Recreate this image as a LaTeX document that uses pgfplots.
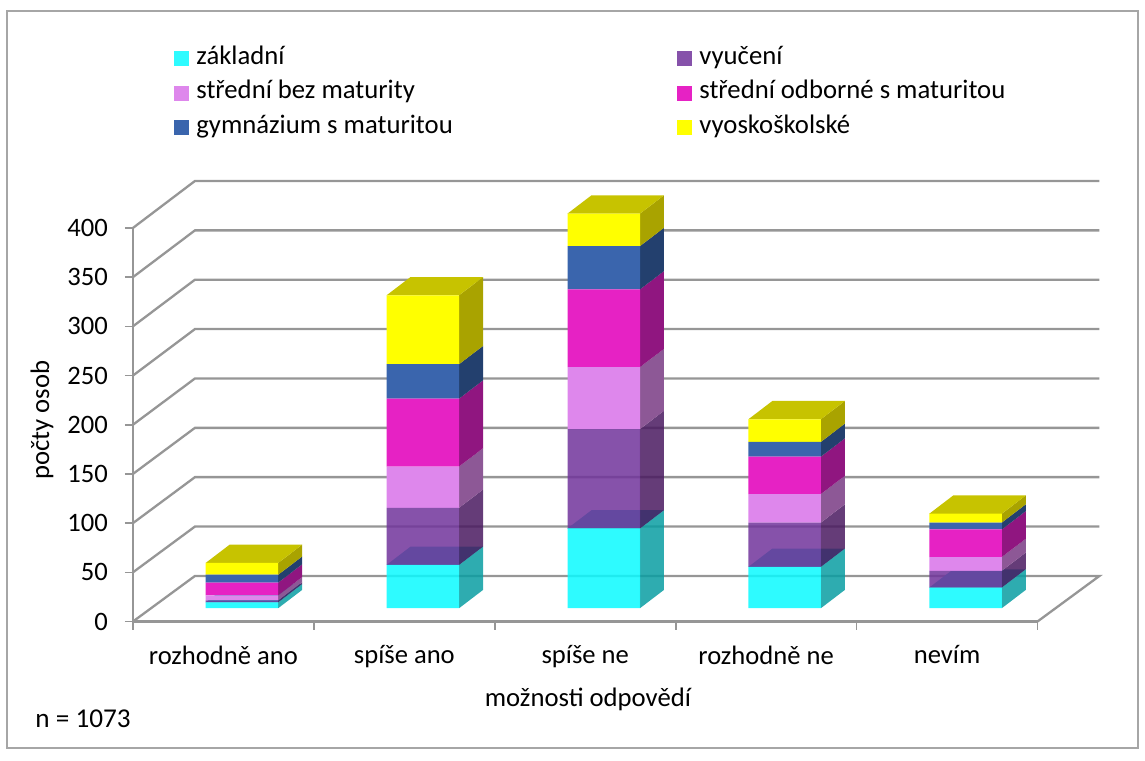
\documentclass[border=0pt]{standalone}
\usepackage{fontspec}
\setmainfont{Carlito}
\usepackage{pgfplots}
\usepackage{pgfplotstable}
\pgfplotsset{compat=1.18}
\definecolor{cyanF}{RGB}{9,250,255}
\definecolor{cyanS}{RGB}{9,158,162}
\definecolor{cyanT}{RGB}{27,188,192}
\definecolor{purF}{RGB}{113,52,155}
\definecolor{purS}{RGB}{74,26,96}
\definecolor{pinkF}{RGB}{222,135,236}
\definecolor{pinkS}{RGB}{141,88,150}
\definecolor{magF}{RGB}{230,34,196}
\definecolor{magS}{RGB}{144,22,128}
\definecolor{bluF}{RGB}{58,101,173}
\definecolor{bluS}{RGB}{35,64,110}
\definecolor{yelF}{RGB}{255,255,0}
\definecolor{yelS}{RGB}{169,163,0}
\definecolor{yelT}{RGB}{199,195,0}
\definecolor{gridc}{RGB}{150,150,150}
\definecolor{framec}{RGB}{166,166,166}
\pgfplotstableread{
x a b c d e f
0 6 2 5 13 8 12
1 44 58 42 69 35 70
2 81 101 63 79 44 33
3 42 45 29 38 15 23
4 21 17 14 28 7 9
}\data
% one side face of a segment: category, lower sum, upper sum, colour, opacity
\newcommand\sideface[5]{%
  \pgfmathsetmacro\xa{#1+0.3025}\pgfmathsetmacro\xb{#1+0.4351}%
  \pgfmathsetmacro\ya{#2+13.5}\pgfmathsetmacro\yb{#2+32.1}%
  \pgfmathsetmacro\yc{#3+32.1}\pgfmathsetmacro\yd{#3+13.5}%
  \edef\tmp{\noexpand\addplot[forget plot,draw=none,fill=#4,fill opacity=#5] coordinates {(\xa,\ya)(\xb,\yb)(\xb,\yc)(\xa,\yd)} -- cycle;}\tmp}
% top face of a segment: category, sum, colour
\newcommand\topface[3]{%
  \pgfmathsetmacro\xa{#1-0.0983}\pgfmathsetmacro\xb{#1+0.3025}%
  \pgfmathsetmacro\xc{#1+0.4351}\pgfmathsetmacro\xd{#1+0.0343}%
  \pgfmathsetmacro\ya{#2+13.5}\pgfmathsetmacro\yb{#2+32.1}%
  \edef\tmp{\noexpand\addplot[forget plot,draw=none,fill=#3] coordinates {(\xa,\ya)(\xb,\ya)(\xc,\yb)(\xd,\yb)} -- cycle;}\tmp}
\newcommand\barfaces[1]{%
  \pgfplotstablegetelem{#1}{a}\of\data\pgfmathsetmacro\sa{\pgfplotsretval}%
  \pgfplotstablegetelem{#1}{b}\of\data\pgfmathsetmacro\sb{\sa+\pgfplotsretval}%
  \pgfplotstablegetelem{#1}{c}\of\data\pgfmathsetmacro\sc{\sb+\pgfplotsretval}%
  \pgfplotstablegetelem{#1}{d}\of\data\pgfmathsetmacro\sd{\sc+\pgfplotsretval}%
  \pgfplotstablegetelem{#1}{e}\of\data\pgfmathsetmacro\se{\sd+\pgfplotsretval}%
  \pgfplotstablegetelem{#1}{f}\of\data\pgfmathsetmacro\sf{\se+\pgfplotsretval}%
  \sideface{#1}{0}{\sa}{cyanS}{0.85}%
  \topface{#1}{\sa}{cyanT}%
  \sideface{#1}{\sa}{\sb}{purS}{0.85}%
  \sideface{#1}{\sb}{\sc}{pinkS}{1}%
  \sideface{#1}{\sc}{\sd}{magS}{1}%
  \sideface{#1}{\sd}{\se}{bluS}{1}%
  \sideface{#1}{\se}{\sf}{yelS}{1}%
  \topface{#1}{\sf}{yelT}}
\pgfplotsset{gl/.style={forget plot,draw=gridc,line width=1.15pt,mark=none}}
\begin{document}
\begin{tikzpicture}[x=1pt,y=1pt]
\path[use as bounding box] (0,0) rectangle (572.5,380);
\draw[framec,line width=0.6pt] (3.5,6) rectangle (569,374.5);
\begin{axis}[
  at={(66.5pt,69.25pt)},anchor=south west,
  scale only axis,width=452.25pt,height=196.8pt,
  xmin=-0.5,xmax=4.5,ymin=0,ymax=400,clip=false,
  axis line style={draw=gridc,line width=1.15pt},
  axis x line*=bottom,axis y line*=left,
  axis line style={-},
  xtick={0,1,2,3,4},
  xticklabels={rozhodně ano,spíše ano,spíše ne,rozhodně ne,nevím},
  minor xtick={-0.5,0.5,1.5,2.5,3.5,4.5},
  ytick={0,50,...,400},
  major x tick style={draw=none},
  tick align=outside,
  major tick length=4pt,minor tick length=4pt,
  tick style={draw=gridc,line width=0.8pt},
  ytick pos=left,xtick pos=bottom,
  tick label style={font=\fontsize{13.3}{15}\selectfont},
  yticklabel style={/pgf/number format/assume math mode=true,xshift=-5pt},
  xticklabel style={yshift=-4.5pt},
  xlabel={možnosti odpovědí},
  ylabel={počty osob},
  label style={font=\fontsize{13.35}{15}\selectfont},
  xlabel style={at={(axis cs:2.015,-1)},anchor=center,yshift=-38.5pt},
  ylabel style={at={(axis description cs:0,0.5)},anchor=center,xshift=2.2pt,yshift=45.5pt},
]
\addplot[gl] coordinates {(-0.5,0)(-0.1575,46.3)(4.8425,46.3)(4.5,0)};
\addplot[gl] coordinates {(-0.5,50)(-0.1575,96.5)(4.8425,96.5)};
\addplot[gl] coordinates {(-0.5,100)(-0.1575,146.7)(4.8425,146.7)};
\addplot[gl] coordinates {(-0.5,150)(-0.1575,196.8)(4.8425,196.8)};
\addplot[gl] coordinates {(-0.5,200)(-0.1575,247)(4.8425,247)};
\addplot[gl] coordinates {(-0.5,250)(-0.1575,297.2)(4.8425,297.2)};
\addplot[gl] coordinates {(-0.5,300)(-0.1575,347.4)(4.8425,347.4)};
\addplot[gl] coordinates {(-0.5,350)(-0.1575,397.5)(4.8425,397.5)};
\addplot[gl] coordinates {(-0.5,400)(-0.1575,447.7)(4.8425,447.7)};
\pgfplotsinvokeforeach{0,1,2,3,4}{\barfaces{#1}}
\end{axis}
\begin{axis}[
  at={(75.75pt,75.9pt)},anchor=south west,
  scale only axis,width=452.25pt,height=196.8pt,
  xmin=-0.5,xmax=4.5,ymin=0,ymax=400,clip=false,
  hide axis,
  ybar stacked,bar width=36.25pt,
  legend columns=2,
  legend cell align=left,
  legend image code/.code={\fill[#1] (0pt,-3.75pt) rectangle (7.5pt,3.75pt);},
  legend style={
    at={(axis cs:-0.3757,569.5)},anchor=north west,draw=none,fill=none,
    inner sep=0pt,
    font=\fontsize{13.35}{15}\selectfont,
    row sep=6.6pt,
    nodes={inner sep=0pt,text height=8pt,text depth=2.6pt},
    /tikz/column 1/.style={column sep=3.5pt},
    /tikz/column 2/.style={column sep=112.3pt},
    /tikz/column 3/.style={column sep=3.5pt},
  },
]
\addplot[draw=none,fill=cyanF,fill opacity=0.85] table[x=x,y=a] {\data};
\addlegendentry{základní}
\addplot[draw=none,fill=purF,fill opacity=0.85] table[x=x,y=b] {\data};
\addlegendentry{vyučení}
\addplot[draw=none,fill=pinkF] table[x=x,y=c] {\data};
\addlegendentry{střední bez maturity}
\addplot[draw=none,fill=magF] table[x=x,y=d] {\data};
\addlegendentry{střední odborné s maturitou}
\addplot[draw=none,fill=bluF] table[x=x,y=e] {\data};
\addlegendentry{gymnázium s maturitou}
\addplot[draw=none,fill=yelF] table[x=x,y=f] {\data};
\addlegendentry{vyoskoškolské}
\end{axis}
\node[font=\fontsize{13.6}{15}\selectfont,anchor=west,inner sep=0pt] at (17.5,20.5) {n = 1073};
\end{tikzpicture}
\end{document}
